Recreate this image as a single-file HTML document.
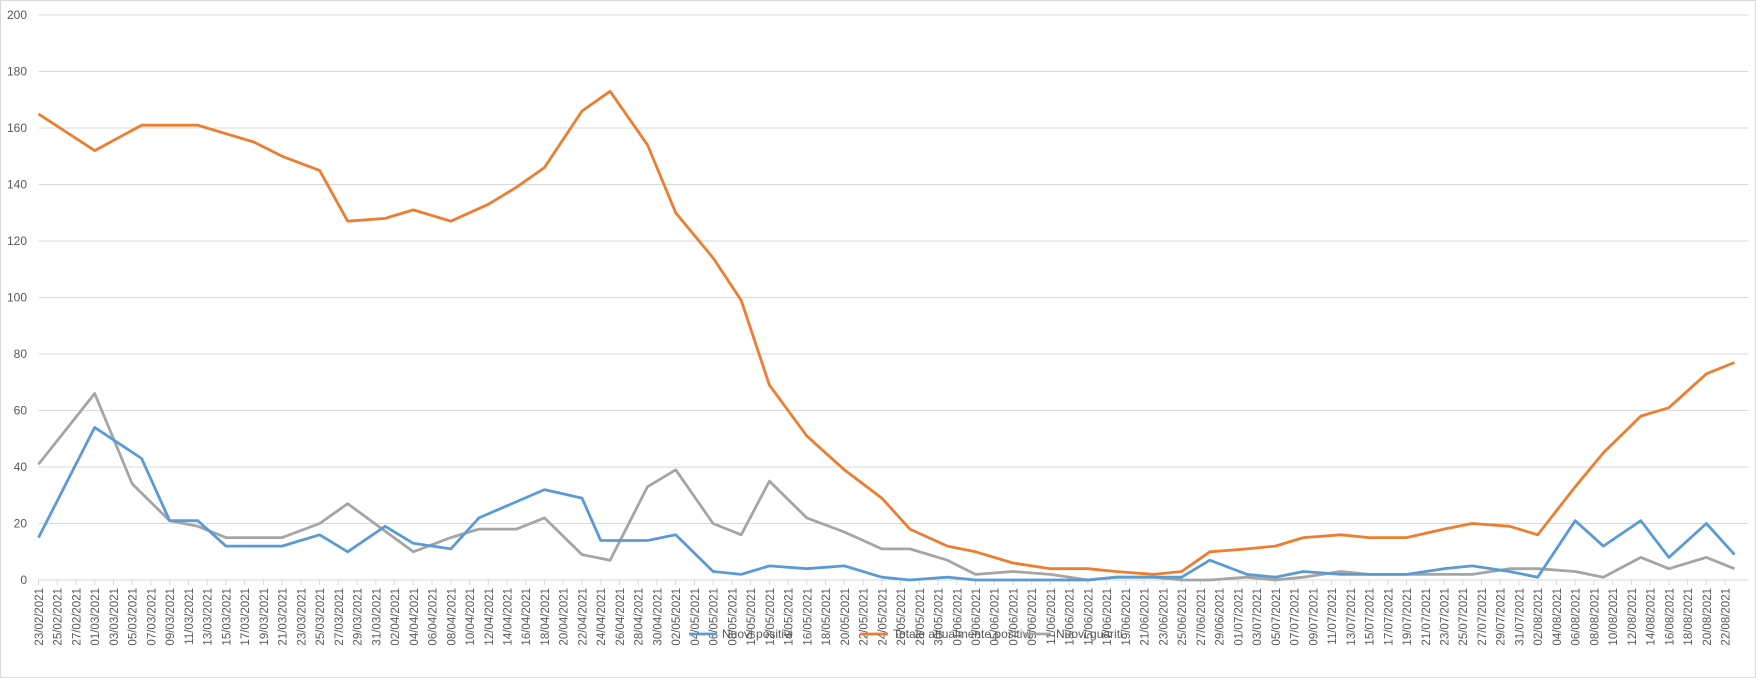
<!DOCTYPE html>
<html><head><meta charset="utf-8"><style>
html,body{margin:0;padding:0;background:#fff;}
#wrap{position:relative;width:1756px;height:678px;overflow:hidden;}
svg text{font-family:"Liberation Sans",sans-serif;fill:#595959;}
</style></head><body>
<div id="wrap">
<svg id="chart" width="1756" height="678">
<rect x="0.5" y="0.5" width="1755" height="677" fill="#fff" stroke="#d9d9d9"/>
<g id="grid"></g>
<g id="yticks"></g>
<g id="xaxis"></g>
<g id="series"></g>
<g>
<g>
<line x1="689" y1="634" x2="717" y2="634" stroke="#5b9bd5" stroke-width="2.8"/>
<text x="722" y="638" font-size="12">Nuovi positivi</text></g>
<g>
<line x1="860" y1="634" x2="888" y2="634" stroke="#ed7d31" stroke-width="2.8"/>
<text x="893" y="638" font-size="12">Totale attualmente positivi</text></g>
<g>
<line x1="1023" y1="634" x2="1051" y2="634" stroke="#a5a5a5" stroke-width="2.8"/>
<text x="1056" y="638" font-size="12">Nuovi guariti</text></g>
</g>
</svg>
</div>
<script>
const yTicks=[0,20,40,60,80,100,120,140,160,180,200];
const days=[0,6,11,17,23,26,30,33,37,40,44,48,51,54,58,61,65,68,72,75,78,82,86,90,93,97,100,104,108,112,115,119,122,125,129,132,135,139,142,146,150,153,157,160,164,167,171,174,178,181];
const totale=[165,152,161,161,155,150,145,127,128,131,127,133,139,146,166,173,154,130,114,99,69,51,39,29,18,12,10,6,4,4,3,2,3,10,11,12,15,16,15,15,18,20,19,16,33,45,58,61,73,77];
const positiviDays=[0,6,11,14,17,20,26,30,33,37,40,44,47,54,58,60,65,68,72,75,78,82,86,90,93,97,100,104,108,112,115,119,122,125,129,132,135,139,142,146,150,153,157,160,164,167,171,174,178,181];
const positivi=[15,54,43,21,21,12,12,16,10,19,13,11,22,32,29,14,14,16,3,2,5,4,5,1,0,1,0,0,0,0,1,1,1,7,2,1,3,2,2,2,4,5,3,1,21,12,21,8,20,9];
const guaritiDays=[0,6,10,14,17,20,26,30,33,40,44,47,51,54,58,61,65,68,72,75,78,82,86,90,93,97,100,104,108,112,115,119,122,125,129,132,135,139,142,146,150,153,157,160,164,167,171,174,178,181];
const guariti=[41,66,34,21,19,15,15,20,27,10,15,18,18,22,9,7,33,39,20,16,35,22,17,11,11,7,2,3,2,0,1,1,0,0,1,0,1,3,2,2,2,2,4,4,3,1,8,4,8,4];
const xLabels=[];
(function(){const s=new Date(Date.UTC(2021,1,23));for(let k=0;k<=90;k++){const d=new Date(s.getTime()+k*2*86400000);xLabels.push(String(d.getUTCDate()).padStart(2,'0')+'/'+String(d.getUTCMonth()+1).padStart(2,'0')+'/'+d.getUTCFullYear());}})();
const NS='http://www.w3.org/2000/svg';
const X0=38.5,DX=9.37,Y0=580,DY=2.825,XEND=1748;
function xs(d){return X0+d*DX;}
function ys(v){return Y0-v*DY;}
function mk(t,a,p){const e=document.createElementNS(NS,t);for(const k in a)e.setAttribute(k,a[k]);p.appendChild(e);return e;}
const grid=document.getElementById('grid'),yt=document.getElementById('yticks'),xa=document.getElementById('xaxis'),ser=document.getElementById('series');
yTicks.forEach(v=>{
 if(v>0){const l=mk('line',{x1:X0,x2:XEND,y1:ys(v),y2:ys(v),stroke:'#d9d9d9','stroke-width':1},grid);
 
 }
 const t=mk('text',{x:27,y:ys(v)+4,'text-anchor':'end','font-size':12},yt);
 t.textContent=v;
 
 
});
const ax=mk('line',{x1:X0,x2:XEND,y1:Y0,y2:Y0,stroke:'#d9d9d9','stroke-width':1},xa);


xLabels.forEach((lab,i)=>{
 const x=xs(i*2);
 mk('line',{x1:x,x2:x,y1:Y0,y2:Y0+5,stroke:'#d9d9d9'},xa);
 const t=mk('text',{x:0,y:0,'text-anchor':'end','font-size':11.5,transform:'translate('+(x+4.5)+','+(Y0+8)+') rotate(-90)'},xa);
 t.textContent=lab;
 
 
});
function line(ds,vs,color,name){
 const pts=ds.map((d,i)=>xs(d).toFixed(1)+','+ys(vs[i]).toFixed(1)).join(' ');
 const p=mk('polyline',{points:pts,fill:'none',stroke:color,'stroke-width':2.8,'stroke-linejoin':'round'},ser);
 
 
}
line(guaritiDays,guariti,'#a5a5a5','line-nuovi-guariti');
line(positiviDays,positivi,'#5b9bd5','line-nuovi-positivi');
line(days,totale,'#ed7d31','line-totale-attualmente-positivi');
</script>
</body></html>
